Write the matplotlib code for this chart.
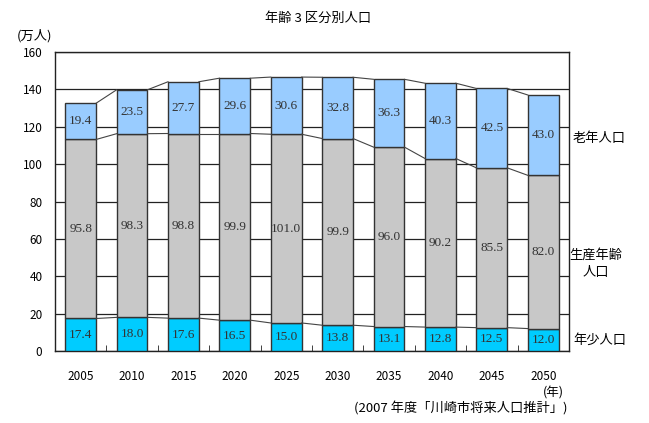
import matplotlib
matplotlib.use("Agg")
import matplotlib.pyplot as plt
import numpy as np

plt.rcParams['font.family'] = ['Noto Sans CJK JP', 'DejaVu Sans']

years = ['2005', '2010', '2015', '2020', '2025', '2030', '2035', '2040', '2045', '2050']
young = [17.4, 18.0, 17.6, 16.5, 15.0, 13.8, 13.1, 12.8, 12.5, 12.0]
working = [95.8, 98.3, 98.8, 99.9, 101.0, 99.9, 96.0, 90.2, 85.5, 82.0]
elderly = [19.4, 23.5, 27.7, 29.6, 30.6, 32.8, 36.3, 40.3, 42.5, 43.0]
yticks = [0, 20, 40, 60, 80, 100, 120, 140, 160]

c_young = '#00CCFF'
c_work = '#C8C8C8'
c_old = '#99CCFF'
edge = '#333333'

fig = plt.figure(figsize=(6.49, 4.23), dpi=100)
ax = fig.add_axes([0.0847, 0.1702, 0.7920, 0.7068])

x = np.arange(len(years))
w = 0.6
young = np.array(young); working = np.array(working); elderly = np.array(elderly)
b1 = young
b2 = young + working
b3 = b2 + elderly

ax.set_axisbelow(True)
ax.yaxis.grid(True, color='#222222', linewidth=0.9)
ax.bar(x, young, w, color=c_young, edgecolor=edge, linewidth=1.0, zorder=3)
ax.bar(x, working, w, bottom=young, color=c_work, edgecolor=edge, linewidth=1.0, zorder=3)
ax.bar(x, elderly, w, bottom=b2, color=c_old, edgecolor=edge, linewidth=1.0, zorder=3)

# series lines
for tops in (b1, b2, b3):
    for i in range(len(x) - 1):
        ax.plot([x[i] + w / 2, x[i + 1] - w / 2], [tops[i], tops[i + 1]],
                color='#444444', linewidth=0.8, zorder=4)

lab_kw = dict(ha='center', va='center', fontsize=9.5, color='#333333',
              family=['Liberation Serif', 'DejaVu Serif'], zorder=5)
for i in range(len(x)):
    ax.text(x[i], young[i] / 2, f'{young[i]:.1f}', **lab_kw)
    ax.text(x[i], young[i] + working[i] / 2, f'{working[i]:.1f}', **lab_kw)
    ax.text(x[i], b2[i] + elderly[i] / 2, f'{elderly[i]:.1f}', **lab_kw)

ax.set_xlim(-0.5, len(x) - 0.5)
ax.set_ylim(0, 160)
ax.set_yticks(yticks)
ax.set_yticklabels([str(v) for v in yticks], fontsize=8.5)
ax.tick_params(axis='y', length=0, pad=9)
ax.set_xticks(x)
ax.set_xticklabels(years, fontsize=8.5)
ax.tick_params(axis='x', length=0, pad=14)
ax.set_xticks(np.arange(len(x) - 1) + 0.5, minor=True)
ax.tick_params(axis='x', which='minor', direction='in', length=4, color='#222222')
for s in ax.spines.values():
    s.set_color('#222222')
    s.set_linewidth(1.0)

fig.text(318 / 649, 1 - 18 / 423, '年齢 3 区分別人口', ha='center', va='center', fontsize=9.5)
fig.text(35 / 649, 1 - 36 / 423, '(万人)', ha='center', va='center', fontsize=9.5)
fig.text(553 / 649, 1 - 393 / 423, '(年)', ha='center', va='center', fontsize=9)
fig.text(568 / 649, 1 - 408 / 423, '(2007 年度「川崎市将来人口推計」)', ha='right', va='center', fontsize=9.5)
fig.text(573 / 649, 1 - 138 / 423, '老年人口', ha='left', va='center', fontsize=9.5)
fig.text(596 / 649, 1 - 255 / 423, '生産年齢', ha='center', va='center', fontsize=9.5)
fig.text(596 / 649, 1 - 272 / 423, '人口', ha='center', va='center', fontsize=9.5)
fig.text(573 / 649, 1 - 340 / 423, '年少人口', ha='left', va='center', fontsize=9.5)

fig.savefig('out.png', dpi=100)
